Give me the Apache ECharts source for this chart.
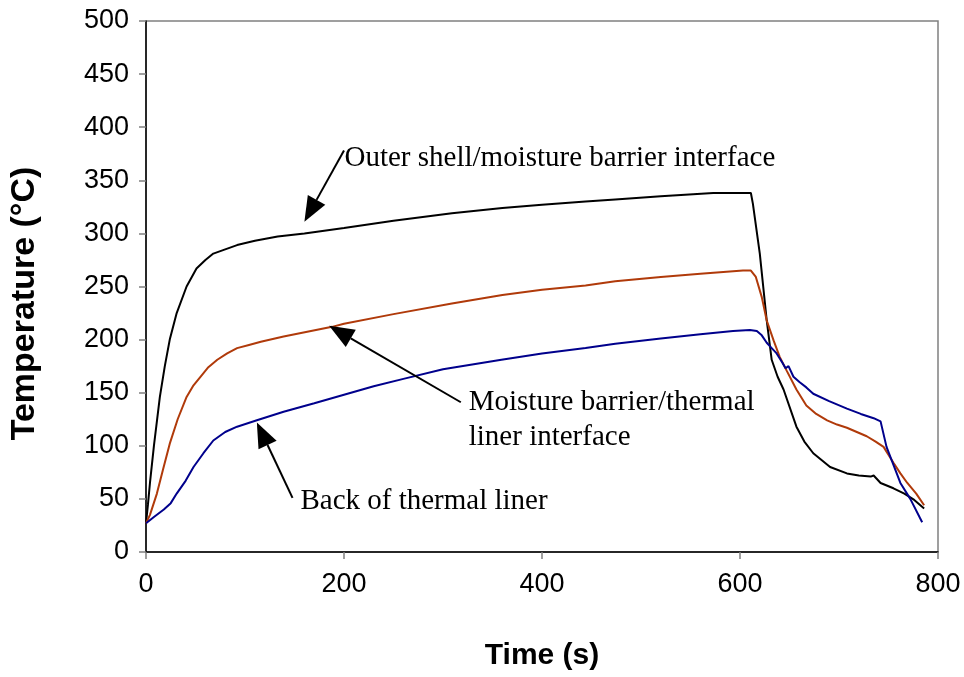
<!DOCTYPE html>
<html>
<head>
<meta charset="utf-8">
<script src="https://cdn.jsdelivr.net/npm/echarts@6/dist/echarts.min.js"></script>
<style>
  html, body { margin: 0; padding: 0; background: #fff; }
  #chart { width: 964px; height: 677px; }
</style>
</head>
<body>
<div id="chart"></div>
<script>
// Outer shell / moisture barrier interface
const outerTime = [0, 2, 4, 8, 14, 19, 24, 31, 41, 51, 60, 68, 80, 92, 110, 133, 160, 200, 250, 309, 360, 400, 444, 474, 520, 573, 611, 613, 620, 627, 632, 638, 644, 657, 665, 674, 691, 708, 720, 732, 735, 742, 755, 766, 776, 786];
const outerTemp = [27, 45, 65, 100, 146, 175, 200, 225, 250, 267, 275, 281, 285, 289, 293, 297, 300, 305, 312, 319, 324, 327, 330, 332, 335, 338, 338, 328, 281, 218, 181, 165, 153, 118, 104, 93, 80, 74, 72, 71, 72, 65, 60, 55, 49, 41];

// Moisture barrier / thermal liner interface
const midTime = [0, 4, 11, 17, 24, 32, 41, 48, 55, 63, 72, 82, 92, 104, 116, 139, 188, 200, 250, 309, 360, 400, 444, 474, 520, 560, 603, 611, 616, 622, 627, 634, 640, 647, 657, 667, 677, 688, 698, 708, 718, 728, 737, 745, 755, 762, 769, 778, 786];
const midTemp = [27, 35, 55, 77, 102, 125, 146, 157, 165, 174, 181, 187, 192, 195, 198, 203, 212, 215, 224, 234, 242, 247, 251, 255, 259, 262, 265, 265, 259, 240, 218, 199, 184, 171, 153, 138, 130, 124, 120, 117, 113, 109, 104, 99, 84, 74, 65, 55, 44];

// Back of thermal liner
const backTime = [0, 8, 18, 25, 31, 40, 48, 58, 68, 80, 92, 112, 139, 170, 200, 230, 260, 300, 359, 400, 444, 474, 520, 560, 593, 610, 617, 622, 627, 632, 637, 643, 646, 649, 654, 660, 667, 674, 690, 708, 722, 735, 742, 748, 755, 762, 772, 784];
const backTemp = [27, 33, 40, 46, 55, 67, 80, 93, 105, 113, 118, 124, 132, 140, 148, 156, 163, 172, 181, 187, 192, 196, 201, 205, 208, 209, 208, 204, 197, 192, 187, 178, 173, 175, 165, 160, 155, 149, 142, 135, 130, 126, 123, 99, 82, 65, 50, 28];

const xTicks = [0, 200, 400, 600, 800];
const yTicks = [0, 50, 100, 150, 200, 250, 300, 350, 400, 450, 500];

// Callout labels: text anchor and arrow tail/tip, in data units (time, temperature)
const callouts = [
  { lines: ['Outer shell/moisture barrier interface'], text: [200.5, 371], tail: [200, 378], tip: [160, 311] },
  { lines: ['Moisture barrier/thermal', 'liner interface'], text: [326, 141], tail: [318, 141], tip: [185, 213] },
  { lines: ['Back of thermal liner'], text: [156, 48], tail: [148, 51], tip: [112, 122] }
];

const zip = (a, b) => a.map((v, i) => [v, b[i]]);

const chart = echarts.init(document.getElementById('chart'), null, { renderer: 'canvas' });

const axisFont = 'Liberation Sans, Arial, sans-serif';
const serifFont = 'Liberation Serif, Times New Roman, serif';

function lineSeries(name, data, color) {
  return {
    name, type: 'line', data, showSymbol: false, symbol: 'none',
    lineStyle: { color, width: 2 }, animation: false, z: 3
  };
}

chart.setOption({
  animation: false,
  backgroundColor: '#ffffff',
  grid: {
    left: 144, right: 26, top: 21, bottom: 125,
    show: true, borderColor: '#808080', borderWidth: 1.5, backgroundColor: 'transparent'
  },
  xAxis: {
    type: 'value', min: 0, max: 800, interval: 200,
    name: 'Time (s)', nameLocation: 'middle', nameGap: 89,
    nameTextStyle: { fontFamily: axisFont, fontWeight: 'bold', fontSize: 30, color: '#000' },
    axisLine: { show: true, lineStyle: { color: '#000', width: 1.5 } },
    axisTick: { show: true, inside: false, length: 7, lineStyle: { color: '#808080', width: 1.5 } },
    axisLabel: {
      fontFamily: axisFont, fontSize: 27, color: '#000', margin: 19,
      formatter: v => (xTicks.includes(v) ? String(v) : '')
    },
    splitLine: { show: false }
  },
  yAxis: {
    type: 'value', min: 0, max: 500, interval: 50,
    name: 'Temperature (°C)', nameLocation: 'middle', nameGap: 104, nameRotate: 90,
    nameTextStyle: { fontFamily: axisFont, fontWeight: 'bold', fontSize: 34, color: '#000', padding: [0, 34, 0, 0] },
    axisLine: { show: true, lineStyle: { color: '#000', width: 1.5 } },
    axisTick: { show: true, inside: false, length: 7, lineStyle: { color: '#808080', width: 1.5 } },
    axisLabel: {
      fontFamily: axisFont, fontSize: 27, color: '#000', margin: 17,
      formatter: v => (yTicks.includes(v) ? String(v) : '')
    },
    splitLine: { show: false }
  },
  series: [
    lineSeries('Outer shell/moisture barrier interface', zip(outerTime, outerTemp), '#000000'),
    lineSeries('Moisture barrier/thermal liner interface', zip(midTime, midTemp), '#B03A0A'),
    lineSeries('Back of thermal liner', zip(backTime, backTemp), '#00008C')
  ]
});

// Callout text and arrows, positioned through the chart's own coordinate system
function buildCallouts() {
  const els = [];
  callouts.forEach(c => {
    const tp = chart.convertToPixel({ gridIndex: 0 }, c.text);
    const a = chart.convertToPixel({ gridIndex: 0 }, c.tail);
    const b = chart.convertToPixel({ gridIndex: 0 }, c.tip);
    c.lines.forEach((ln, i) => {
      els.push({
        type: 'text', x: tp[0], y: tp[1] + i * 35, z: 10,
        style: { text: ln, font: '29px ' + serifFont, fill: '#000', textVerticalAlign: 'middle', textAlign: 'left' }
      });
    });
    const dx = b[0] - a[0], dy = b[1] - a[1];
    const len = Math.hypot(dx, dy);
    const ux = dx / len, uy = dy / len;
    const headLen = 25, headHalf = 10;
    const base = [b[0] - ux * headLen, b[1] - uy * headLen];
    els.push({
      type: 'line', z: 10,
      shape: { x1: a[0], y1: a[1], x2: base[0], y2: base[1] },
      style: { stroke: '#000', lineWidth: 2 }
    });
    els.push({
      type: 'polygon', z: 10,
      shape: { points: [b, [base[0] - uy * headHalf, base[1] + ux * headHalf], [base[0] + uy * headHalf, base[1] - ux * headHalf]] },
      style: { fill: '#000' }
    });
  });
  chart.setOption({ graphic: els });
}
buildCallouts();
</script>
</body>
</html>
